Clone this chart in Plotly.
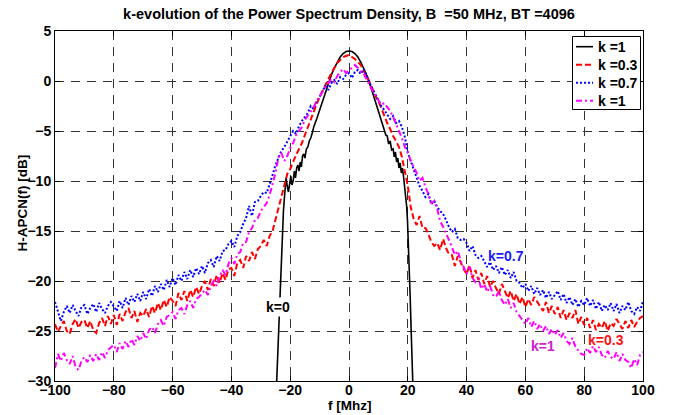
import numpy as np
import plotly.graph_objects as go

# ---------------- data ----------------
f_axis = list(range(-100, 101))  # MHz, 1 MHz step for the noisy PSDs

# k = 0 (ideal, solid black)
f_k0 = [-25, -24.6, -24.2, -23.9, -23.5, -23.2, -22.9, -22.6, -22.3, -22.0, -21.7, -21.4,
        -21.0, -20.6, -20.2, -19.8, -19.4, -19.0, -18.6, -18.2, -17.8, -17.4, -17.0, -16.6,
        -16.2, -15.8, -15.4, -15.0, -14.5, -14.0, -13.5, -13.0, -12.5, -12.0, -11.0, -10.0,
        -9, -8, -7, -6, -5, -4, -3, -2, -1, 0, 1, 2, 3, 4, 5, 6, 7, 8, 9, 10, 11, 12, 12.5,
        13, 13.5, 14, 14.5, 15, 15.4, 15.8, 16.2, 16.6, 17.0, 17.4, 17.8, 18.2, 18.6, 19.0,
        19.3, 19.6, 19.9, 20.2, 20.5, 20.8, 21.1, 21.4, 21.7, 22.0]
psd_k0 = [-33, -30, -26.5, -23.5, -21, -19.8, -17.5, -15, -13, -11.8, -10.6, -9.7,
          -10.5, -11.1, -10.3, -9.5, -10.4, -10.0, -9.0, -9.7, -8.7, -8.4, -9.0, -8.1,
          -8.6, -7.5, -7.3, -7.7, -6.8, -6.6, -6.0, -5.7, -5.2, -4.6, -3.8, -2.9,
          -2.0, -1.1, -0.2, 0.6, 1.3, 1.9, 2.4, 2.75, 2.95, 3.0, 2.95, 2.75, 2.4, 1.9, 1.3,
          0.6, -0.2, -1.1, -2.0, -3.0, -3.9, -4.9, -5.4,
          -5.5, -6.3, -6.0, -6.9, -6.8, -7.6, -7.1, -8.1, -7.7, -8.7, -8.2, -9.2, -8.7, -9.7,
          -10.6, -11.5, -12.5, -14.0, -16.0, -18.5, -21.5, -24.5, -27.5, -30.5, -33]

# k = 0.3 (red dashed)
psd_k03 = [
    -24.3, -25.1, -24.5, -24.0, -25.0, -25.3, -24.3, -23.8, -24.7, -24.1,
    -23.9, -24.7, -24.0, -24.9, -25.2, -24.2, -23.7, -24.5, -23.5, -24.3,
    -23.4, -24.4, -23.3, -24.0, -23.1, -22.7, -23.7, -23.0, -24.1, -23.2,
    -23.5, -22.8, -23.6, -22.5, -23.2, -22.2, -22.9, -21.9, -22.6, -21.6,
    -22.0, -22.5, -21.2, -21.9, -21.0, -22.0, -20.9, -21.6, -20.6, -21.3,
    -20.5, -20.0, -20.9, -19.8, -20.5, -19.4, -20.2, -19.2, -19.9, -18.8,
    -18.7, -19.5, -18.2, -17.9, -18.7, -17.5, -18.0, -17.1, -17.8, -16.8,
    -16.5, -15.9, -16.5, -15.5, -15.0, -13.8, -12.6, -11.5, -10.3, -9.3,
    -8.8, -8.0, -7.4, -6.8, -6.2, -5.4, -4.6, -3.7, -3.0, -2.3,
    -1.6, -1.0, -0.3, 0.3, 0.8, 1.3, 1.8, 2.1, 2.4, 2.5,
    2.6, 2.4, 2.2, 1.9, 1.6, 1.0, 0.5, -0.1, -0.8, -1.5,
    -2.0, -2.8, -3.6, -4.2, -4.8, -5.5, -6.0, -6.6, -7.6, -9.0,
    -10.5, -12.6, -13.8, -14.4, -13.5, -14.7, -14.7, -15.3, -16.1, -16.5,
    -16.2, -16.9, -15.8, -16.7, -17.3, -17.4, -18.5, -17.5, -18.2, -18.8,
    -19.3, -18.4, -19.7, -18.9, -19.9, -19.2, -20.3, -19.5, -20.6, -20.0,
    -20.7, -21.3, -20.3, -21.1, -21.7, -21.0, -22.0, -21.3, -22.3, -21.6,
    -22.6, -21.8, -22.4, -21.6, -22.1, -22.5, -23.0, -22.1, -23.2, -22.5,
    -23.3, -22.6, -23.7, -22.9, -23.9, -23.2, -23.7, -22.9, -24.3, -23.6,
    -24.4, -23.7, -24.7, -23.9, -24.9, -24.3, -24.7, -24.0, -25.0, -24.2,
    -24.5, -23.8, -24.3, -24.8, -24.0, -24.7, -23.9, -24.6, -24.1, -23.7,
    -23.5]

# k = 0.7 (blue dotted)
psd_k07 = [
    -22.1, -23.1, -24.0, -23.1, -22.5, -23.2, -22.4, -23.0, -23.5, -22.6,
    -22.4, -23.3, -22.7, -22.3, -23.1, -22.2, -22.8, -23.2, -22.5, -22.1,
    -22.6, -23.0, -22.0, -22.7, -21.7, -22.4, -21.5, -22.1, -21.3, -22.0,
    -21.1, -21.8, -20.8, -21.5, -20.5, -21.1, -20.3, -20.9, -19.9, -20.6,
    -19.7, -20.4, -19.4, -20.0, -19.1, -19.8, -18.9, -19.6, -18.7, -19.3,
    -18.5, -19.2, -18.2, -17.9, -18.6, -17.5, -18.0, -17.0, -16.9, -16.3,
    -16.0, -16.6, -15.5, -15.1, -14.3, -13.7, -12.5, -13.5, -12.1, -12.0,
    -11.5, -11.1, -11.2, -10.4, -9.4, -8.4, -7.6, -7.0, -6.6, -6.1,
    -5.6, -5.0, -5.3, -4.5, -4.0, -3.6, -3.2, -2.5, -2.8, -2.0,
    -1.6, -1.0, -0.5, -0.9, -0.2, 0.1, -0.3, 0.4, 0.2, 0.6,
    0.8, 0.3, 0.9, 1.1, 0.7, 1.2, 0.6, -0.2, -0.8, -1.4,
    -2.0, -2.5, -2.9, -3.3, -3.8, -3.5, -4.2, -4.0, -4.6, -5.6,
    -7.2, -8.0, -8.8, -9.6, -10.5, -11.0, -11.6, -11.3, -12.3, -12.0,
    -12.6, -13.0, -13.3, -13.9, -14.6, -15.1, -14.8, -15.7, -15.9, -15.8,
    -16.2, -17.0, -16.5, -17.4, -17.7, -17.5, -18.0, -18.6, -18.1, -18.9,
    -18.5, -19.2, -18.6, -19.4, -18.9, -19.7, -19.1, -20.0, -20.2, -20.7,
    -20.3, -21.0, -20.5, -21.3, -20.7, -21.4, -20.9, -21.7, -21.1, -21.8,
    -21.4, -21.0, -21.9, -21.3, -22.2, -21.6, -22.4, -21.8, -22.6, -22.0,
    -22.4, -21.7, -22.5, -21.9, -22.8, -22.1, -23.0, -22.4, -22.9, -22.2,
    -23.0, -22.3, -23.2, -22.5, -22.9, -22.1, -23.0, -23.3, -22.6, -23.0,
    -22.0]

# k = 1 (magenta dash-dot)
psd_k1 = [
    -28.7, -27.3, -28.0, -27.2, -27.9, -28.3, -27.5, -28.6, -28.9, -28.0,
    -27.6, -28.1, -27.4, -28.0, -27.3, -27.9, -27.1, -27.7, -26.9, -26.6,
    -26.4, -27.1, -26.2, -26.8, -26.0, -26.6, -25.8, -26.4, -25.5, -26.0,
    -25.2, -25.8, -24.9, -24.6, -25.2, -24.3, -23.9, -24.5, -23.6, -23.4,
    -23.1, -23.8, -22.9, -22.7, -23.3, -22.4, -22.0, -22.7, -21.8, -21.6,
    -21.3, -20.9, -21.4, -20.5, -20.0, -20.5, -19.5, -18.9, -19.4, -18.3,
    -17.7, -18.3, -17.3, -17.1, -16.2, -16.1, -15.1, -14.7, -13.9, -13.7,
    -13.0, -12.6, -12.2, -11.4, -10.4, -9.2, -7.6, -7.2, -8.0, -7.5,
    -6.7, -6.2, -5.4, -5.0, -4.6, -3.9, -3.5, -3.1, -2.6, -2.0,
    -1.5, -1.1, -0.6, -0.2, 0.2, -0.1, 0.5, 0.9, 1.2, 0.8,
    1.1, 1.4, 1.6, 1.3, 0.9, 0.7, 0.2, -0.4, -1.0, -1.5,
    -2.0, -2.4, -2.2, -2.6, -3.0, -3.6, -4.3, -5.0, -5.7, -6.6,
    -7.1, -8.0, -8.6, -9.2, -10.0, -9.7, -10.6, -11.3, -12.2, -12.0,
    -12.8, -14.0, -14.6, -15.2, -15.9, -16.6, -17.4, -17.0, -18.0, -18.6,
    -19.3, -18.6, -19.7, -20.1, -19.7, -20.8, -20.3, -21.1, -20.5, -21.4,
    -21.6, -21.0, -21.9, -22.4, -21.8, -22.7, -22.2, -23.1, -23.5, -23.9,
    -24.3, -23.7, -24.6, -24.0, -24.8, -24.3, -25.0, -24.5, -25.3, -24.8,
    -25.4, -24.9, -25.7, -25.2, -26.0, -26.3, -25.7, -26.6, -27.0, -27.3,
    -27.4, -26.7, -27.2, -26.5, -27.1, -26.6, -27.4, -27.7, -27.0, -27.6,
    -27.8, -27.1, -28.0, -27.3, -27.9, -28.1, -28.7, -27.8, -28.4, -27.4,
    -27.1]

legend_names = ["k =1", "k =0.3", "k =0.7", "k =1"]
x_ticks = list(range(-100, 101, 20))
y_ticks = list(range(-30, 6, 5))

# ---------------- figure ----------------
FONT = "Liberation Sans, Arial, Helvetica, sans-serif"
W, H = 681, 415
ML, MR, MT, MB = 55, 38, 31, 34
PW, PH = W - ML - MR, H - MT - MB


def px_x(px):
    return (px - ML) / PW


def px_y(py):
    return (H - MB - py) / PH


styles = [
    dict(color="black", width=1.6, dash="solid"),
    dict(color="#ff0000", width=2, dash="6px,3px"),
    dict(color="#0000ff", width=2, dash="2px,2px"),
    dict(color="#ff00ff", width=2, dash="6px,3px,2px,3px"),
]

fig = go.Figure()
fig.add_trace(go.Scatter(x=f_k0, y=psd_k0, mode="lines", name=legend_names[0],
                         line=styles[0], showlegend=False))
fig.add_trace(go.Scatter(x=f_axis, y=psd_k03, mode="lines", name=legend_names[1],
                         line=styles[1], showlegend=False))
fig.add_trace(go.Scatter(x=f_axis, y=psd_k07, mode="lines", name=legend_names[2],
                         line=styles[2], showlegend=False))
fig.add_trace(go.Scatter(x=f_axis, y=psd_k1, mode="lines", name=legend_names[3],
                         line=styles[3], showlegend=False))

tfont = dict(size=14, color="black", family=FONT, weight="bold")
lfont = dict(size=13.5, color="black", family=FONT, weight="bold")
axis_common = dict(showline=True, linecolor="black", linewidth=1, mirror="ticks",
                   ticks="inside", ticklen=5, tickcolor="black",
                   showgrid=True, gridcolor="#333333", gridwidth=1, griddash="9px,7px",
                   zeroline=False, tickfont=tfont, automargin=False)

fig.update_xaxes(range=[-100, 100], tickvals=x_ticks, ticklabelstandoff=-4, **axis_common)
fig.update_yaxes(range=[-30, 5], tickvals=y_ticks, **axis_common)

# axis titles placed like the MATLAB originals
fig.add_annotation(xref="paper", yref="paper", x=px_x(349), y=px_y(405.5),
                   xanchor="center", yanchor="middle", text="f [Mhz]",
                   showarrow=False, font=lfont)
fig.add_annotation(xref="paper", yref="paper", x=px_x(21.5), y=px_y(203),
                   xanchor="center", yanchor="middle", text="H-APCN(f) [dB]",
                   textangle=-90, showarrow=False, font=lfont)

annots = [
    dict(x=-24.2, y=-22.6, text="k=0", color="black", bg="white"),
    dict(x=53.5, y=-17.5, text="k=0.7", color="#1a1aff", bg="rgba(0,0,0,0)"),
    dict(x=66.1, y=-26.5, text="k=1", color="#d020d0", bg="rgba(0,0,0,0)"),
    dict(x=87.5, y=-25.9, text="k=0.3", color="#ff1010", bg="rgba(0,0,0,0)"),
]
for a in annots:
    fig.add_annotation(x=a["x"], y=a["y"], text=a["text"], showarrow=False,
                       bgcolor=a["bg"], borderpad=1, font=tfont | dict(color=a["color"]))

# legend box (drawn as MATLAB-style legend)
fig.add_shape(type="rect", xref="paper", yref="paper",
              x0=px_x(572.5), x1=px_x(640.5), y0=px_y(109.5), y1=px_y(36.5),
              line=dict(color="black", width=1), fillcolor="white", layer="above")
rows_py = [46.7, 64.7, 82.7, 100.7]
for name, st, py in zip(legend_names, styles, rows_py):
    fig.add_shape(type="line", xref="paper", yref="paper",
                  x0=px_x(576), x1=px_x(593), y0=px_y(py), y1=px_y(py),
                  line=st, layer="above")
    fig.add_annotation(xref="paper", yref="paper", x=px_x(596), y=px_y(py),
                       xanchor="left", yanchor="middle", text=name, showarrow=False,
                       font=tfont)

fig.update_layout(
    width=W, height=H,
    margin=dict(l=ML, r=MR, t=MT, b=MB),
    paper_bgcolor="white", plot_bgcolor="white",
    font=dict(family=FONT, size=14, color="black", weight="bold"),
    title=dict(text="k-evolution of the Power Spectrum Density, B  =50 MHz, BT =4096",
               x=349 / W, xanchor="center",
               y=1 - 14 / H, yanchor="middle",
               font=dict(size=14.5, color="black", family=FONT, weight="bold")),
    showlegend=False,
)

fig.write_html("out.html", config={"displayModeBar": False},
               post_script="document.body.style.margin='0';")
